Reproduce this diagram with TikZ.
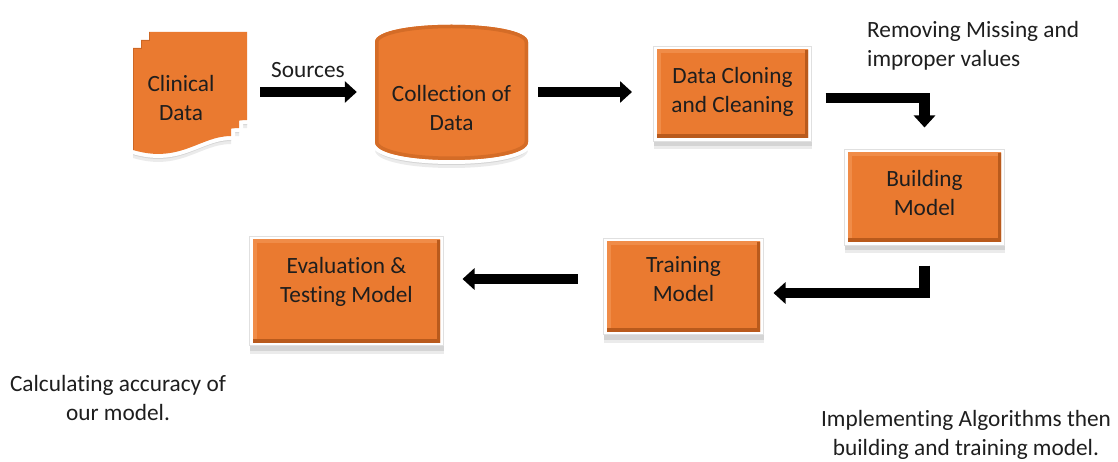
\documentclass[tikz,border=0pt]{standalone}
\usepackage{fontspec}
\setmainfont{Carlito}[Ligatures=NoCommon]
\usetikzlibrary{arrows.meta,shadows}
\definecolor{org}{HTML}{EA7A30}
\definecolor{orgdark}{HTML}{B95A1C}
\definecolor{orglight}{HTML}{F08C48}
\definecolor{txt}{HTML}{1E1E1E}
\definecolor{shadeA}{HTML}{D4D4D4}
\definecolor{shadeB}{HTML}{EBEBEB}
\newcommand{\lblfont}{\fontsize{23.3pt}{29pt}\selectfont}
\newcommand{\docpage}{(133,48) -- (231,48) -- (231,136) .. controls (200,136) and (180,164) .. (133,150) -- cycle}
\newcommand{\cylpath}{(375,42) .. controls (375,19) and (528,19) .. (528,42) -- (528,142) .. controls (528,166) and (375,166) .. (375,142) -- cycle}
\tikzset{
  lbl/.style={font=\lblfont, text=txt, align=center, inner sep=0pt},
  procbox/.style={lbl, rectangle, fill=white, draw=black!12, line width=0.6pt, outer sep=0pt,
    drop shadow={shadow xshift=0pt, shadow yshift=-8pt, fill=shadeB, opacity=1},
    drop shadow={shadow xshift=0pt, shadow yshift=-5pt, fill=shadeA, opacity=1},
    path picture={
      \begin{scope}
        \clip ([shift={(3.5pt,3.5pt)}]path picture bounding box.south west) rectangle ([shift={(-3.5pt,-3.5pt)}]path picture bounding box.north east);
        \fill[org] (path picture bounding box.south west) rectangle (path picture bounding box.north east);
        \draw[orglight, line width=7pt] ([shift={(3.5pt,3.5pt)}]path picture bounding box.south west) -- ([shift={(3.5pt,-3.5pt)}]path picture bounding box.north west) -- ([shift={(-3.5pt,-3.5pt)}]path picture bounding box.north east);
        \draw[orgdark, line width=7pt] ([shift={(-3.5pt,-3.5pt)}]path picture bounding box.north east) -- ([shift={(-3.5pt,3.5pt)}]path picture bounding box.south east) -- ([shift={(3.5pt,3.5pt)}]path picture bounding box.south west);
      \end{scope}}},
  bigarrow/.style={draw=black, line width=10.5pt, -{Triangle[length=12pt,width=21pt]}},
}
\begin{document}
\begin{tikzpicture}[x=1pt,y=-1pt]
\useasboundingbox (0,0) rectangle (1118,462);
% ---- Clinical Data (multi-document) ----
\begin{scope}[yshift=-8pt]
  \fill[shadeB] [shift={(16,-16)}] \docpage;
  \fill[shadeB] [shift={(8,-8)}] \docpage;
  \fill[shadeB] \docpage;
\end{scope}
\begin{scope}[yshift=-5pt]
  \fill[shadeA] [shift={(16,-16)}] \docpage;
  \fill[shadeA] [shift={(8,-8)}] \docpage;
  \fill[shadeA] \docpage;
\end{scope}
\draw[white, line width=8pt, line join=round] [shift={(16,-16)}] \docpage;
\draw[white, line width=8pt, line join=round] [shift={(8,-8)}] \docpage;
\draw[white, line width=8pt, line join=round] \docpage;
\fill[org] [shift={(16,-16)}] \docpage;
\fill[org] [shift={(8,-8)}] \docpage;
\fill[org] \docpage;
\draw[orgdark!60!org, line width=0.8pt] (133,150) -- (133,48) -- (141,48) -- (141,40) -- (149,40) -- (149,32);
\node[lbl, minimum width=158pt] (clin) at (181,97.5) {Clinical\\Data};
% ---- Collection of Data (cylinder) ----
\fill[shadeB] [yshift=-8pt] \cylpath;
\fill[shadeA] [yshift=-5pt] \cylpath;
\draw[white, line width=8pt] \cylpath;
\fill[org] \cylpath;
\begin{scope}
  \clip \cylpath;
  \draw[orgdark!45!org, line width=7pt] \cylpath;
\end{scope}
\node[lbl, minimum width=153pt, minimum height=138pt] (coll) at (451.5,108) {Collection of\\Data};
% ---- process boxes ----
\node[procbox, minimum width=158pt, minimum height=95pt, text depth=7.8pt] (clone) at (732.5,94) {Data Cloning\\and Cleaning};
\node[procbox, minimum width=160pt, minimum height=96pt, text depth=9.8pt] (build) at (924.5,197.5) {Building\\Model};
\node[procbox, minimum width=160pt, minimum height=96pt, text depth=15.8pt] (train) at (683.5,286.5) {Training\\Model};
\node[procbox, minimum width=194pt, minimum height=109pt, text depth=22.8pt] (eval) at (346.5,291) {Evaluation \&\\Testing Model};
% ---- free texts ----
\node[lbl] (src) at (308,70) {Sources};
\node[lbl, align=left, anchor=west] (rm) at (867,45.5) {Removing Missing and\\improper values};
\node[lbl] (calc) at (118,398) {Calculating accuracy of\\our model.};
\node[lbl] (impl) at (966,435) {Implementing Algorithms then\\building and training model.};
% ---- connectors ----
\draw[bigarrow, shorten >=18pt] ([yshift=5.5pt]clin.east) -- ([yshift=16pt]coll.west);
\draw[bigarrow, shorten <=10pt, shorten >=21.5pt] ([yshift=16pt]coll.east) -- ([yshift=2pt]clone.west);
\draw[bigarrow, shorten <=14pt, shorten >=22pt] ([yshift=-4pt]clone.east) -| (build.north);
\draw[bigarrow, shorten <=20pt, shorten >=10pt] (build.south) |- ([yshift=-6.5pt]train.east);
\draw[bigarrow] ([xshift=-26pt,yshift=7.5pt]train.west) -- ([xshift=19pt,yshift=12pt]eval.east);
\end{tikzpicture}
\end{document}
